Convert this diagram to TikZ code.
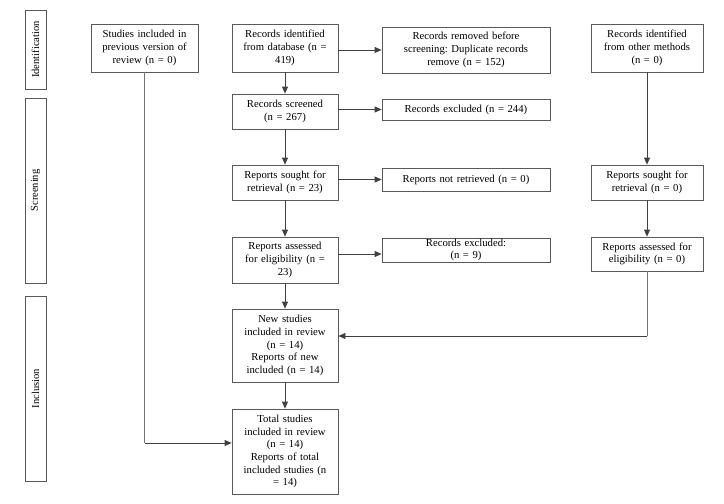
\documentclass[tikz,border=0pt]{standalone}
\usepackage{fontspec}
\setmainfont{Liberation Serif}
\usetikzlibrary{arrows.meta,calc}
\frenchspacing
\begin{document}
\begin{tikzpicture}[x=1pt,y=-1pt,
  box/.style={draw=black!65,line width=0.8pt,fill=white,align=center,inner xsep=2pt,inner ysep=0pt,
    font=\fontsize{10.7}{12.7}\selectfont},
  side/.style={draw=black!65,line width=0.8pt,fill=white,rotate=90,inner sep=0pt,
    font=\fontsize{10.5}{12}\selectfont},
  arr/.style={draw=black!75,line width=0.8pt,-{Triangle[length=7pt,width=6pt]}},
  ln/.style={draw=black!55,line width=0.9pt}]
\useasboundingbox (0,0) rectangle (724,504);
% side labels
\node[side,minimum width=79pt,minimum height=21pt] (sid) at (35.5,49.5) {Identification};
\node[side,minimum width=185pt,minimum height=21pt] (ssc) at (35.5,190.5) {Screening};
\node[side,minimum width=185pt,minimum height=21pt] (sin) at (35.5,388.5) {Inclusion};
% boxes
\node[box,text width=103pt,minimum height=48pt] (prev) at (144.5,48) {Studies included in\\previous version of\\review (n = 0)};
\node[box,text width=102pt,minimum height=48pt] (db) at (285,48) {Records identified\\from database (n =\\419)};
\node[box,text width=164pt,minimum height=46pt] (rem) at (466,50) {Records removed before\\screening: Duplicate records\\remove (n = 152)};
\node[box,text width=108pt,minimum height=48pt] (oth) at (647,48) {Records identified\\from other methods\\(n = 0)};
\node[box,text width=102pt,minimum height=35pt] (scr) at (285,111.5) {Records screened\\(n = 267)};
\node[box,text width=164pt,minimum height=21pt] (ex1) at (466,109.5) {Records excluded (n = 244)};
\node[box,text width=102pt,minimum height=35pt] (sou) at (285,182.5) {Reports sought for\\retrieval (n = 23)};
\node[box,text width=164pt,minimum height=23pt] (nrt) at (466,179.5) {Reports not retrieved (n = 0)};
\node[box,text width=108pt,minimum height=35pt] (sou0) at (647,182.5) {Reports sought for\\retrieval (n = 0)};
\node[box,text width=102pt,minimum height=46pt] (ass) at (285,260) {Reports assessed\\for eligibility (n =\\23)};
\node[box,text width=164pt,minimum height=24pt] (ex2) at (466,250) {Records excluded:\\(n = 9)};
\node[box,text width=108pt,minimum height=34pt] (ass0) at (647,254) {Reports assessed for\\eligibility (n = 0)};
\node[box,text width=102pt,minimum height=73pt] (new) at (285,345.5) {New studies\\included in review\\(n = 14)\\Reports of new\\included (n = 14)};
\node[box,text width=102pt,minimum height=85pt] (tot) at (285,451.5) {Total studies\\included in review\\(n = 14)\\Reports of total\\included studies (n\\= 14)};
% connectors
\draw[arr] (db) -- (db.east |- rem.west) -- (rem.west);
\draw[arr] (scr.east |- ex1.west) -- (ex1.west);
\draw[arr] (sou.east |- nrt.west) -- (nrt.west);
\coordinate (a2) at ($(ass.east)+(0,-6)$);
\draw[arr] (a2) -- (ex2.west |- a2);
\draw[arr] (db.south) -- (scr.north);
\draw[arr] (scr.south) -- (sou.north);
\draw[arr] (sou.south) -- (ass.north);
\draw[arr] (ass.south) -- (new.north);
\draw[arr] (new.south) -- (tot.north);
\draw[arr] (oth.south) -- (sou0.north);
\draw[arr] (sou0.south) -- (ass0.north);
\coordinate (rc) at (647,336);
\draw[ln] (ass0.south) -- (rc);
\draw[arr] (rc) -- (new.east |- rc);
\coordinate (lc) at (144.5,443);
\draw[ln] (prev.south) -- (lc);
\draw[arr] (lc) -- (tot.west |- lc);
\end{tikzpicture}
\end{document}
